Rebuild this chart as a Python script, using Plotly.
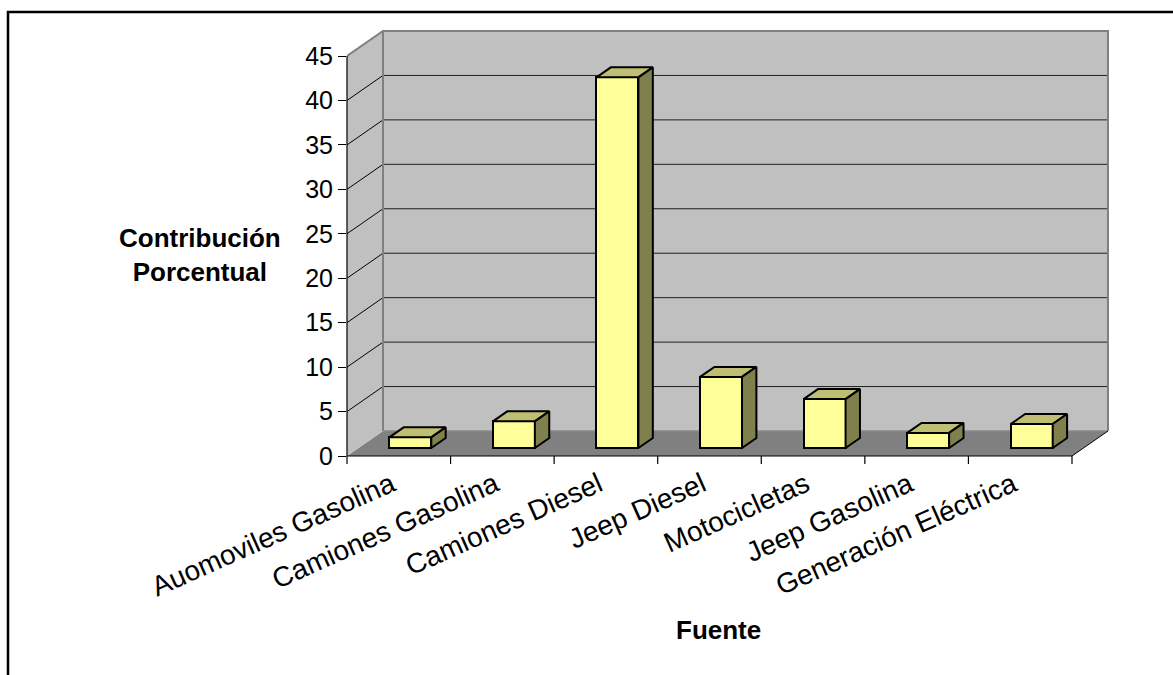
import plotly.graph_objects as go

# Source categories and their percentage contribution
categorias = ["Auomoviles Gasolina", "Camiones Gasolina", "Camiones Diesel",
              "Jeep Diesel", "Motocicletas", "Jeep Gasolina", "Generación Eléctrica"]
contribucion = [1.2, 3.0, 41.7, 8.0, 5.5, 1.7, 2.7]
valores_eje = [0, 5, 10, 15, 20, 25, 30, 35, 40, 45]

W, H = 1173, 675
L, R, T, B = 347, 59, 25, 219
PW, PH = W - L - R, H - T - B
CAT_PX = 103.57            # pixels per category slot
VAL_PX = 400 / 45          # pixels per percentage unit
XMAX = -0.5 + PW / CAT_PX
YMAX = PH / VAL_PX

# 3-D depth of the chart box (in axis units)
DX = 36 / CAT_PX
DY = 25 / VAL_PX
FRONT = 0.32               # bar front face position inside the depth
DEPTH = 0.40               # bar thickness as a fraction of the depth
BAR_W = 0.405
LABEL_NUDGE = 0.07         # category labels end a little left of the slot centre

n = len(categorias)
x0, x1 = -0.5, n - 0.5
top = valores_eje[-1]


def px_x(px):
    return (px - L) / PW


def px_y(py):
    return (H - B - py) / PH


def poly(pts):
    return "M " + " L ".join(f"{x},{y}" for x, y in pts) + " Z"


shapes = []
# floor
shapes.append(dict(type="path", xref="x", yref="y", layer="below",
                   path=poly([(x0, 0), (x1, 0), (x1 + DX, DY), (x0 + DX, DY)]),
                   fillcolor="#808080", line=dict(width=0)))
# side wall
shapes.append(dict(type="path", xref="x", yref="y", layer="below",
                   path=poly([(x0, 0), (x0, top), (x0 + DX, top + DY), (x0 + DX, DY)]),
                   fillcolor="#C0C0C0", line=dict(width=0)))
# back wall
shapes.append(dict(type="path", xref="x", yref="y", layer="below",
                   path=poly([(x0 + DX, DY), (x1 + DX, DY), (x1 + DX, top + DY), (x0 + DX, top + DY)]),
                   fillcolor="#C0C0C0", line=dict(width=0)))
# gridlines on back and side walls
for v in valores_eje[1:-1]:
    shapes.append(dict(type="line", xref="x", yref="y", layer="below",
                       x0=x0 + DX, x1=x1 + DX, y0=v + DY, y1=v + DY,
                       line=dict(color="#202020", width=1)))
    shapes.append(dict(type="line", xref="x", yref="y", layer="below",
                       x0=x0, x1=x0 + DX, y0=v, y1=v + DY,
                       line=dict(color="#000000", width=1)))
# wall edges
edge = dict(color="#808080", width=2)
shapes.append(dict(type="path", xref="x", yref="y", layer="below",
                   path=f"M {x0},{top} L {x0 + DX},{top + DY} L {x1 + DX},{top + DY} L {x1 + DX},{DY}",
                   line=edge))
shapes.append(dict(type="line", xref="x", yref="y", layer="below",
                   x0=x0 + DX, x1=x0 + DX, y0=DY, y1=top + DY, line=edge))
shapes.append(dict(type="line", xref="x", yref="y", layer="below",
                   x0=x0 + DX, x1=x1 + DX, y0=DY, y1=DY, line=dict(color="#8a8a8a", width=1.5)))
shapes.append(dict(type="line", xref="x", yref="y", layer="below",
                   x0=x1, x1=x1 + DX, y0=0, y1=DY, line=dict(color="#000000", width=1)))
# front value axis and category axis
shapes.append(dict(type="line", xref="paper", yref="y", x0=0, x1=0, y0=0, y1=top,
                   line=dict(color="#000000", width=1.2)))
shapes.append(dict(type="line", xref="x", yref="paper", x0=x0, x1=x1, y0=0, y1=0,
                   line=dict(color="#000000", width=1.2)))
for k in range(n + 1):
    xb = px_x(L + k * CAT_PX)
    shapes.append(dict(type="line", xref="paper", yref="paper", x0=xb, x1=xb,
                       y0=0, y1=-8 / PH, line=dict(color="#000000", width=1.2)))
# outer frame
shapes.append(dict(type="rect", xref="paper", yref="paper",
                   x0=px_x(8), x1=px_x(1190), y0=px_y(12), y1=px_y(700),
                   line=dict(color="#000000", width=2.5), fillcolor="rgba(0,0,0,0)"))

fig = go.Figure()

base = FRONT * DY
shift = FRONT * DX
xc = [i + shift for i in range(n)]

# front faces of the columns
fig.add_trace(go.Bar(x=xc, y=contribucion, base=[base] * n, width=BAR_W,
                     marker=dict(color="#FFFF99", line=dict(color="#000000", width=2)),
                     hoverinfo="skip", showlegend=False))

ddx, ddy = DEPTH * DX, DEPTH * DY
for c, v in zip(xc, contribucion):
    xl, xr = c - BAR_W / 2, c + BAR_W / 2
    yt = base + v
    # top face
    fig.add_trace(go.Scatter(
        x=[xl, xr, xr + ddx, xl + ddx, xl], y=[yt, yt, yt + ddy, yt + ddy, yt],
        mode="lines", fill="toself", fillcolor="#BFBF73",
        line=dict(color="#000000", width=2), hoverinfo="skip", showlegend=False))
    # side face
    fig.add_trace(go.Scatter(
        x=[xr, xr + ddx, xr + ddx, xr, xr], y=[base, base + ddy, yt + ddy, yt, base],
        mode="lines", fill="toself", fillcolor="#80804D",
        line=dict(color="#000000", width=2), hoverinfo="skip", showlegend=False))

font_family = "Liberation Sans, Arial, sans-serif"
fig.update_layout(
    width=W, height=H,
    margin=dict(l=L, r=R, t=T, b=B),
    paper_bgcolor="#FFFFFF", plot_bgcolor="rgba(0,0,0,0)",
    font=dict(family=font_family, size=23, color="#000000"),
    shapes=shapes,
    bargap=0,
    xaxis=dict(range=[-0.5, XMAX], showgrid=False, zeroline=False, showline=False,
               tickmode="array", tickvals=[i - LABEL_NUDGE for i in range(n)],
               ticktext=categorias, tickangle=-24, ticks="", ticklabelstandoff=6,
               tickfont=dict(size=28)),
    yaxis=dict(range=[0, YMAX], showgrid=False, zeroline=False, showline=False,
               tickmode="array", tickvals=valores_eje, ticks="outside", ticklen=8,
               tickcolor="#000000", tickwidth=1.2, tickfont=dict(size=25)),
    annotations=[
        dict(text="<b>Contribución<br>Porcentual</b>", xref="paper", yref="paper",
             x=px_x(200), y=px_y(255), xanchor="center", yanchor="middle",
             showarrow=False, align="center", font=dict(size=26)),
        dict(text="<b>Fuente</b>", xref="paper", yref="paper",
             x=px_x(718), y=px_y(630), xanchor="center", yanchor="middle",
             showarrow=False, font=dict(size=26)),
    ],
)

fig.write_html("out.html")
